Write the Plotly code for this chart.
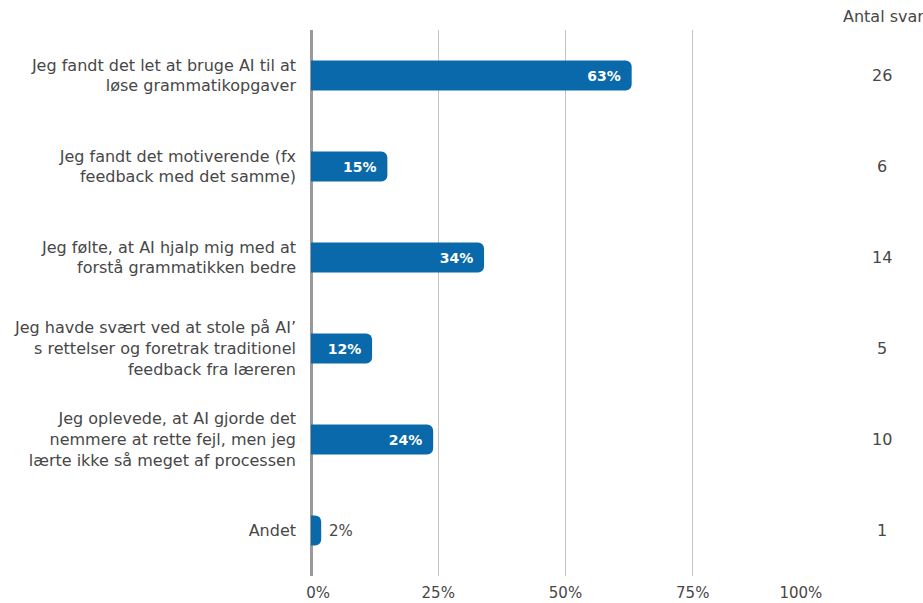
import plotly.graph_objects as go

# Survey answers (Danish), share of respondents and number of answers
categories = [
    "Jeg fandt det let at bruge AI til at<br>løse grammatikopgaver",
    "Jeg fandt det motiverende (fx<br>feedback med det samme)",
    "Jeg følte, at AI hjalp mig med at<br>forstå grammatikken bedre",
    "Jeg havde svært ved at stole på AI’<br>s rettelser og foretrak traditionel<br>feedback fra læreren",
    "Jeg oplevede, at AI gjorde det<br>nemmere at rette fejl, men jeg<br>lærte ikke så meget af processen",
    "Andet",
]
percent = [63, 15, 34, 12, 24, 2]
antal_svar = [26, 6, 14, 5, 10, 1]
tick_values = [0, 25, 50, 75, 100]
tick_labels = ["0%", "25%", "50%", "75%", "100%"]

BAR = "#0a69aa"
TEXT = "#474747"
FONT = "DejaVu Sans"
NB = "\u00a0"
THIN = "\u2009"

# bars too short for their label get it outside, in dark text
text_pos = ["inside" if p >= 8 else "outside" for p in percent]
bar_text = [f"{p}%{NB}{THIN}" if p >= 8 else f"{NB}{p}%" for p in percent]

# nudge the outer tick labels inwards so they stay inside the plot width
tick_text = list(tick_labels)
tick_text[0] = NB * 3 + tick_text[0]
tick_text[-1] = tick_text[-1] + NB * 8

fig = go.Figure(
    go.Bar(
        x=percent,
        y=categories,
        orientation="h",
        width=0.33,
        marker=dict(color=BAR, line=dict(width=0)),
        text=bar_text,
        textposition=text_pos,
        insidetextanchor="end",
        insidetextfont=dict(family=FONT, size=14, color="white", weight="bold"),
        outsidetextfont=dict(family=FONT, size=15, color=TEXT),
        cliponaxis=False,
        hoverinfo="skip",
    )
)

# right-hand column with the number of answers
for cat, n in zip(categories, antal_svar):
    fig.add_annotation(
        x=1.1218, xref="paper", y=cat, yref="y",
        text=str(n), showarrow=False, xanchor="center",
        font=dict(family=FONT, size=16, color=TEXT),
    )
fig.add_annotation(
    x=1.0413, xref="paper", y=1.0, yref="paper", yanchor="bottom",
    yshift=2, text="Antal svar", showarrow=False, xanchor="left",
    font=dict(family=FONT, size=16, color=TEXT),
)

fig.update_layout(
    width=923,
    height=603,
    margin=dict(l=311, r=103, t=30, b=27, autoexpand=False),
    paper_bgcolor="white",
    plot_bgcolor="white",
    barcornerradius=6,
    showlegend=False,
    font=dict(family=FONT, color=TEXT),
    xaxis=dict(
        range=[0, 100],
        tickvals=tick_values,
        ticktext=tick_text,
        showgrid=True,
        gridcolor="#c4c4c4",
        gridwidth=1,
        zeroline=True,
        zerolinecolor="#9a9a9a",
        zerolinewidth=2.5,
        showline=False,
        ticks="",
        tickfont=dict(family=FONT, size=15, color=TEXT),
        ticklabelstandoff=6,
        automargin=False,
        fixedrange=True,
    ),
    yaxis=dict(
        autorange="reversed",
        showgrid=False,
        showline=False,
        ticks="",
        tickfont=dict(family=FONT, size=16, color=TEXT),
        ticklabelstandoff=14,
        automargin=False,
        fixedrange=True,
    ),
)

fig.write_html("out.html", config={"displayModeBar": False})
